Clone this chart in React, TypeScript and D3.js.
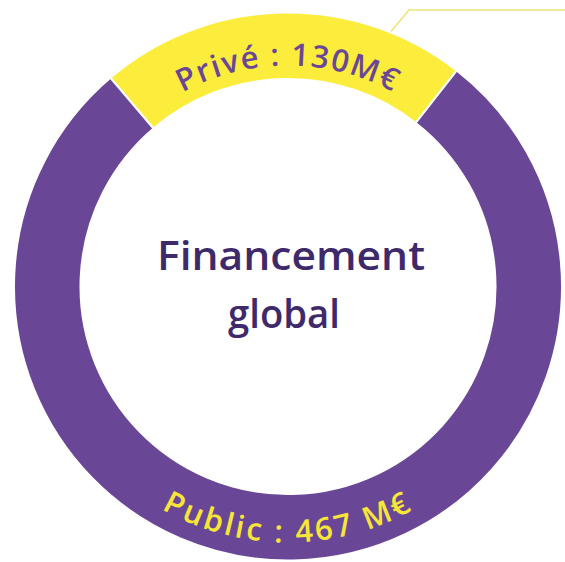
import React from "react";
import * as d3 from "d3";

const categories = ["Privé", "Public"];
const values = [130, 467];
const labels = ["Privé : 130M€", "Public : 467 M€"];
const centerLines = ["Financement", "global"];

const W = 565;
const H = 562;
const CX = 288;
const CY = 286.5;
const R_OUT = 274;
const R_IN = 207.5;
const fills = ["#FCEC3C", "#6A4796"];
const labelFills = ["#6A4796", "#F7E637"];
const START = (-40.4 * Math.PI) / 180;
const FONT = "'Open Sans', Roboto, sans-serif";

export default function App() {
  const pie = d3
    .pie<number>()
    .sort(null)
    .startAngle(START)
    .endAngle(START + 2 * Math.PI);
  const arcs = pie(values);
  const arcGen = d3.arc<d3.PieArcDatum<number>>().innerRadius(R_IN).outerRadius(R_OUT);

  const rTop = 221;
  const rBot = 256;
  const topPath = `M ${-rTop} 0 A ${rTop} ${rTop} 0 0 1 ${rTop} 0`;
  const botPath = `M ${-rBot} 0 A ${rBot} ${rBot} 0 0 0 ${rBot} 0`;

  const la = (22 * Math.PI) / 180;
  const lx0 = Math.sin(la) * (R_OUT + 1);
  const ly0 = -Math.cos(la) * (R_OUT + 1);
  const leader = `M ${lx0} ${ly0} L ${lx0 + 18} ${-CY + 10} L ${W - CX} ${-CY + 10}`;

  return (
    <svg
      width={W}
      height={H}
      style={{ position: "absolute", left: 0, top: 0, background: "#fff" }}
    >
      <defs>
        <path id="topLabelPath" d={topPath} />
        <path id="botLabelPath" d={botPath} />
      </defs>
      <g transform={`translate(${CX},${CY})`}>
        <path d={leader} fill="none" stroke="#EDE37E" strokeWidth={1.6} />
        {arcs.map((a, i) => (
          <path
            key={categories[i]}
            d={arcGen(a) || ""}
            fill={fills[i]}
            stroke="#ffffff"
            strokeWidth={2}
          />
        ))}
        <text
          fontFamily={FONT}
          fontWeight={600}
          fontSize={31}
          fill={labelFills[0]}
          letterSpacing={1.6}
        >
          <textPath href="#topLabelPath" startOffset="50%" textAnchor="middle">
            {labels[0]}
          </textPath>
        </text>
        <text
          fontFamily={FONT}
          fontWeight={600}
          fontSize={31}
          fill={labelFills[1]}
          letterSpacing={2.8}
        >
          <textPath href="#botLabelPath" startOffset="50%" textAnchor="middle">
            {labels[1]}
          </textPath>
        </text>
        <text
          x={3}
          y={270 - CY}
          textAnchor="middle"
          fontFamily={FONT}
          fontWeight={600}
          fontSize={39}
          fill="#3E2A6B"
          textLength={268}
          lengthAdjust="spacingAndGlyphs"
        >
          {centerLines[0]}
        </text>
        <text
          x={-4}
          y={328 - CY}
          textAnchor="middle"
          fontFamily={FONT}
          fontWeight={600}
          fontSize={39}
          fill="#3E2A6B"
          textLength={112}
          lengthAdjust="spacingAndGlyphs"
        >
          {centerLines[1]}
        </text>
      </g>
    </svg>
  );
}
